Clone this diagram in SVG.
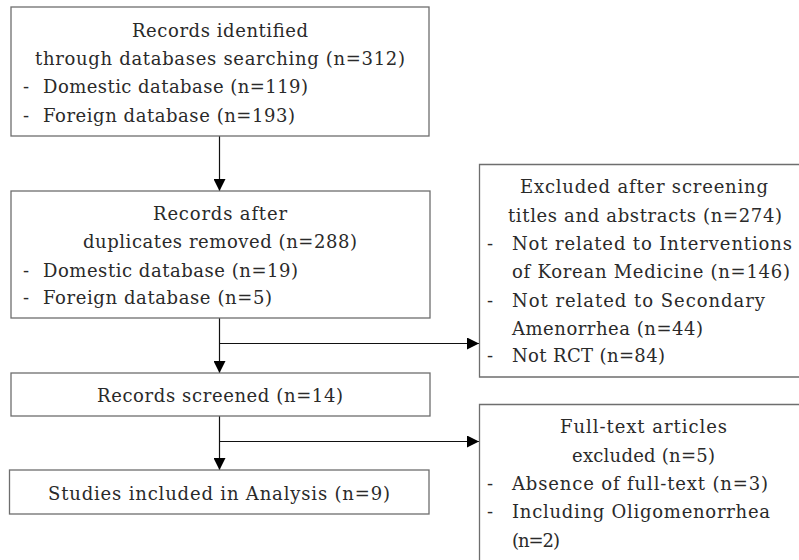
<svg xmlns="http://www.w3.org/2000/svg" width="799" height="560" viewBox="0 0 799 560">
<style>
.box{fill:#fff;stroke:#6e6e6e;stroke-width:1.3}
.open{fill:none;stroke:#6e6e6e;stroke-width:1.3}
.t{font-family:"DejaVu Serif","Liberation Serif",serif;font-size:18px;fill:#2a2a2a}
.c{stroke:#111;stroke-width:1.2;fill:none}
.m{text-anchor:middle}
</style>
<defs>
<marker id="ah" viewBox="0 0 12 12" refX="12" refY="6" markerWidth="12" markerHeight="12" markerUnits="userSpaceOnUse" orient="auto">
<path d="M0,0 L12,6 L0,12 Z" fill="#000"/>
</marker>
</defs>
<rect width="799" height="560" fill="#fff"/>
<g id="connectors">
<path class="c" d="M219.5,136 V191" marker-end="url(#ah)"/>
<path class="c" d="M219.5,318 V373" marker-end="url(#ah)"/>
<path class="c" d="M219.5,343.5 H479" marker-end="url(#ah)"/>
<path class="c" d="M219.5,416 V470" marker-end="url(#ah)"/>
<path class="c" d="M219.5,441.5 H479" marker-end="url(#ah)"/>
</g>
<g id="identified">
<rect class="box" x="11" y="7" width="418" height="129"/>
<text class="t m" x="220" y="37" textLength="176" lengthAdjust="spacing">Records identified</text>
<text class="t m" x="220" y="65" textLength="370" lengthAdjust="spacing">through databases searching (n=312)</text>
<text class="t" x="23" y="93">-</text>
<text class="t" x="43" y="93" textLength="265" lengthAdjust="spacing">Domestic database (n=119)</text>
<text class="t" x="23" y="122">-</text>
<text class="t" x="43" y="122" textLength="252" lengthAdjust="spacing">Foreign database (n=193)</text>
</g>
<g id="duplicates">
<rect class="box" x="11" y="191" width="419" height="127"/>
<text class="t m" x="220" y="220" textLength="134" lengthAdjust="spacing">Records after</text>
<text class="t m" x="220" y="248" textLength="274" lengthAdjust="spacing">duplicates removed (n=288)</text>
<text class="t" x="23" y="277">-</text>
<text class="t" x="43" y="277" textLength="255" lengthAdjust="spacing">Domestic database (n=19)</text>
<text class="t" x="23" y="304">-</text>
<text class="t" x="43" y="304" textLength="229" lengthAdjust="spacing">Foreign database (n=5)</text>
</g>
<g id="screened">
<rect class="box" x="11" y="373" width="419" height="43"/>
<text class="t m" x="220" y="402" textLength="246" lengthAdjust="spacing">Records screened (n=14)</text>
</g>
<g id="included">
<rect class="box" x="9.5" y="470" width="419.5" height="44"/>
<text class="t m" x="219" y="500" textLength="342" lengthAdjust="spacing">Studies included in Analysis (n=9)</text>
</g>
<g id="excluded-screening">
<rect x="479" y="164" width="320" height="213" fill="#fff"/>
<path class="open" d="M799,164.5 H479.5 V377 H799" stroke="#555"/>
<text class="t m" x="644" y="193" textLength="248" lengthAdjust="spacing">Excluded after screening</text>
<text class="t m" x="645" y="222" textLength="274" lengthAdjust="spacing">titles and abstracts (n=274)</text>
<text class="t" x="487" y="250">-</text>
<text class="t" x="512" y="250" textLength="280" lengthAdjust="spacing">Not related to Interventions</text>
<text class="t" x="512" y="278" textLength="278" lengthAdjust="spacing">of Korean Medicine (n=146)</text>
<text class="t" x="487" y="307">-</text>
<text class="t" x="512" y="307" textLength="253" lengthAdjust="spacing">Not related to Secondary</text>
<text class="t" x="512" y="335" textLength="191" lengthAdjust="spacing">Amenorrhea (n=44)</text>
<text class="t" x="487" y="362">-</text>
<text class="t" x="512" y="362" textLength="153" lengthAdjust="spacing">Not RCT (n=84)</text>
</g>
<g id="excluded-fulltext">
<path class="open" d="M799,404.5 H479.5 V560"/>
<text class="t m" x="643.5" y="433" textLength="167" lengthAdjust="spacing">Full-text articles</text>
<text class="t m" x="643.5" y="462" textLength="143" lengthAdjust="spacing">excluded (n=5)</text>
<text class="t" x="487" y="490">-</text>
<text class="t" x="512" y="490" textLength="256" lengthAdjust="spacing">Absence of full-text (n=3)</text>
<text class="t" x="487" y="518">-</text>
<text class="t" x="512" y="518" textLength="258" lengthAdjust="spacing">Including Oligomenorrhea</text>
<text class="t" x="512" y="547" textLength="48" lengthAdjust="spacing">(n=2)</text>
</g>
</svg>
